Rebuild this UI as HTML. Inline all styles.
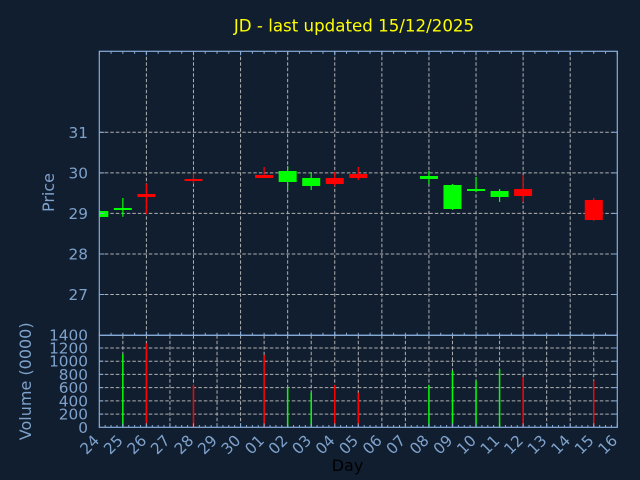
<!DOCTYPE html>
<html>
<head>
<meta charset="utf-8">
<style>
  html, body { margin:0; padding:0; background:#111e2f; }
  svg { display:block; }
  text { font-family: "DejaVu Sans", "Liberation Sans", sans-serif; }
</style>
</head>
<body>
<svg width="640" height="480" viewBox="0 0 640 480" xmlns="http://www.w3.org/2000/svg">
  <defs>
    <pattern id="pMinP" patternUnits="userSpaceOnUse" x="98.8" y="0" width="11.7727" height="10">
      <rect x="0" y="0" width="1" height="10" fill="#86acd9"/>
    </pattern>
    <pattern id="pMajP" patternUnits="userSpaceOnUse" x="98.8" y="0" width="47.0909" height="10">
      <rect x="0" y="0" width="1" height="10" fill="#86acd9"/>
    </pattern>
    <pattern id="pMinV" patternUnits="userSpaceOnUse" x="98.8" y="0" width="5.88636" height="10">
      <rect x="0" y="0" width="1" height="10" fill="#86acd9"/>
    </pattern>
    <pattern id="pMajV" patternUnits="userSpaceOnUse" x="98.8" y="0" width="23.5455" height="10">
      <rect x="0" y="0" width="1" height="10" fill="#86acd9"/>
    </pattern>
    <clipPath id="cp"><rect x="99.3" y="51.3" width="518" height="284"/></clipPath>
  </defs>

  <rect x="0" y="0" width="640" height="480" fill="#111e2f"/>

  <!-- Title -->
  <text x="354" y="31.5" font-size="16.67" fill="#ffff00" text-anchor="middle">JD - last updated 15/12/2025</text>

  <!-- ===== Price panel grid ===== -->
  <g stroke="#b0b0b0" stroke-width="1" stroke-dasharray="3.5,2" fill="none">
    <line x1="99.3" y1="132.3" x2="617.3" y2="132.3"/>
    <line x1="99.3" y1="172.9" x2="617.3" y2="172.9"/>
    <line x1="99.3" y1="213.4" x2="617.3" y2="213.4"/>
    <line x1="99.3" y1="254.0" x2="617.3" y2="254.0"/>
    <line x1="99.3" y1="294.5" x2="617.3" y2="294.5"/>
    <line x1="146.39" y1="51.3" x2="146.39" y2="335.3"/>
    <line x1="193.48" y1="51.3" x2="193.48" y2="335.3"/>
    <line x1="240.57" y1="51.3" x2="240.57" y2="335.3"/>
    <line x1="287.66" y1="51.3" x2="287.66" y2="335.3"/>
    <line x1="334.75" y1="51.3" x2="334.75" y2="335.3"/>
    <line x1="381.85" y1="51.3" x2="381.85" y2="335.3"/>
    <line x1="428.94" y1="51.3" x2="428.94" y2="335.3"/>
    <line x1="476.03" y1="51.3" x2="476.03" y2="335.3"/>
    <line x1="523.12" y1="51.3" x2="523.12" y2="335.3"/>
    <line x1="570.21" y1="51.3" x2="570.21" y2="335.3"/>
  </g>

  <!-- ===== Candles ===== -->
  <g clip-path="url(#cp)">
    <!-- 24 green -->
    <rect x="90.3" y="211" width="18" height="6" fill="#00ff00"/>
    <!-- 25 green -->
    <line x1="122.85" y1="198" x2="122.85" y2="216.7" stroke="#00ff00" stroke-width="1.2"/>
    <rect x="113.85" y="208" width="18" height="2" fill="#00ff00"/>
    <!-- 26 red -->
    <line x1="146.39" y1="183.7" x2="146.39" y2="214" stroke="#ff0000" stroke-width="1.2"/>
    <rect x="137.39" y="194" width="18" height="3" fill="#ff0000"/>
    <!-- 28 red -->
    <line x1="193.48" y1="173.3" x2="193.48" y2="183.7" stroke="#ff0000" stroke-width="1.2"/>
    <rect x="184.48" y="179" width="18" height="2" fill="#ff0000"/>
    <!-- 01 red -->
    <line x1="264.12" y1="167" x2="264.12" y2="177" stroke="#ff0000" stroke-width="1.2"/>
    <rect x="255.12" y="175" width="18" height="3" fill="#ff0000"/>
    <!-- 02 green -->
    <line x1="287.66" y1="166" x2="287.66" y2="190" stroke="#00ff00" stroke-width="1.2"/>
    <rect x="278.66" y="171" width="18" height="11" fill="#00ff00"/>
    <!-- 03 green -->
    <line x1="311.21" y1="172" x2="311.21" y2="190" stroke="#00ff00" stroke-width="1.2"/>
    <rect x="302.21" y="178" width="18" height="8" fill="#00ff00"/>
    <!-- 04 red -->
    <line x1="334.75" y1="172" x2="334.75" y2="186" stroke="#ff0000" stroke-width="1.2"/>
    <rect x="325.75" y="178" width="18" height="6" fill="#ff0000"/>
    <!-- 05 red -->
    <line x1="358.3" y1="167" x2="358.3" y2="180" stroke="#ff0000" stroke-width="1.2"/>
    <rect x="349.3" y="174" width="18" height="4" fill="#ff0000"/>
    <!-- 08 green -->
    <line x1="428.94" y1="171" x2="428.94" y2="184" stroke="#00ff00" stroke-width="1.2"/>
    <rect x="419.94" y="176" width="18" height="3" fill="#00ff00"/>
    <!-- 09 green -->
    <line x1="452.48" y1="184" x2="452.48" y2="210" stroke="#00ff00" stroke-width="1.2"/>
    <rect x="443.48" y="185" width="18" height="24" fill="#00ff00"/>
    <!-- 10 green -->
    <line x1="476.03" y1="177" x2="476.03" y2="192" stroke="#00ff00" stroke-width="1.2"/>
    <rect x="467.03" y="189" width="18" height="2" fill="#00ff00"/>
    <!-- 11 green -->
    <line x1="499.57" y1="189" x2="499.57" y2="202" stroke="#00ff00" stroke-width="1.2"/>
    <rect x="490.57" y="191" width="18" height="6" fill="#00ff00"/>
    <!-- 12 red -->
    <line x1="523.12" y1="175" x2="523.12" y2="202" stroke="#ff0000" stroke-width="1.2"/>
    <rect x="514.12" y="189" width="18" height="7" fill="#ff0000"/>
    <!-- 15 red -->
    <line x1="593.76" y1="198" x2="593.76" y2="221" stroke="#ff0000" stroke-width="1.2"/>
    <rect x="584.76" y="200" width="18" height="20" fill="#ff0000"/>
  </g>

  <!-- Price panel ticks -->
  <rect x="99" y="51.3" width="519" height="2.5" fill="url(#pMinP)"/>
  <rect x="99" y="51.3" width="519" height="4" fill="url(#pMajP)"/>
  <rect x="99" y="332.8" width="519" height="2.5" fill="url(#pMinP)"/>
  <rect x="99" y="331.3" width="519" height="4" fill="url(#pMajP)"/>
  <g stroke="#86acd9" stroke-width="1">
    <line x1="99.3" y1="132.3" x2="104.3" y2="132.3"/>
    <line x1="99.3" y1="172.9" x2="104.3" y2="172.9"/>
    <line x1="99.3" y1="213.4" x2="104.3" y2="213.4"/>
    <line x1="99.3" y1="254.0" x2="104.3" y2="254.0"/>
    <line x1="99.3" y1="294.5" x2="104.3" y2="294.5"/>
    <line x1="612.3" y1="132.3" x2="617.3" y2="132.3"/>
    <line x1="612.3" y1="172.9" x2="617.3" y2="172.9"/>
    <line x1="612.3" y1="213.4" x2="617.3" y2="213.4"/>
    <line x1="612.3" y1="254.0" x2="617.3" y2="254.0"/>
    <line x1="612.3" y1="294.5" x2="617.3" y2="294.5"/>
  </g>

  <!-- Price labels -->
  <g font-size="15.3" fill="#7ea2cc" text-anchor="end">
    <text x="88" y="137.8">31</text>
    <text x="88" y="178.4">30</text>
    <text x="88" y="218.9">29</text>
    <text x="88" y="259.5">28</text>
    <text x="88" y="300.0">27</text>
  </g>
  <text transform="translate(54,192.5) rotate(-90)" font-size="16" fill="#7ea2cc" text-anchor="middle">Price</text>

  <!-- ===== Volume panel grid ===== -->
  <g stroke="#b0b0b0" stroke-width="1" stroke-dasharray="3.5,2" fill="none">
    <line x1="99.3" y1="414.1" x2="617.3" y2="414.1"/>
    <line x1="99.3" y1="400.9" x2="617.3" y2="400.9"/>
    <line x1="99.3" y1="387.6" x2="617.3" y2="387.6"/>
    <line x1="99.3" y1="374.4" x2="617.3" y2="374.4"/>
    <line x1="99.3" y1="361.2" x2="617.3" y2="361.2"/>
    <line x1="99.3" y1="348.0" x2="617.3" y2="348.0"/>
    <line x1="122.85" y1="335.3" x2="122.85" y2="427.3"/>
    <line x1="146.39" y1="335.3" x2="146.39" y2="427.3"/>
    <line x1="169.94" y1="335.3" x2="169.94" y2="427.3"/>
    <line x1="193.48" y1="335.3" x2="193.48" y2="427.3"/>
    <line x1="217.03" y1="335.3" x2="217.03" y2="427.3"/>
    <line x1="240.57" y1="335.3" x2="240.57" y2="427.3"/>
    <line x1="264.12" y1="335.3" x2="264.12" y2="427.3"/>
    <line x1="287.66" y1="335.3" x2="287.66" y2="427.3"/>
    <line x1="311.21" y1="335.3" x2="311.21" y2="427.3"/>
    <line x1="334.75" y1="335.3" x2="334.75" y2="427.3"/>
    <line x1="358.3" y1="335.3" x2="358.3" y2="427.3"/>
    <line x1="381.85" y1="335.3" x2="381.85" y2="427.3"/>
    <line x1="405.39" y1="335.3" x2="405.39" y2="427.3"/>
    <line x1="428.94" y1="335.3" x2="428.94" y2="427.3"/>
    <line x1="452.48" y1="335.3" x2="452.48" y2="427.3"/>
    <line x1="476.03" y1="335.3" x2="476.03" y2="427.3"/>
    <line x1="499.57" y1="335.3" x2="499.57" y2="427.3"/>
    <line x1="523.12" y1="335.3" x2="523.12" y2="427.3"/>
    <line x1="546.66" y1="335.3" x2="546.66" y2="427.3"/>
    <line x1="570.21" y1="335.3" x2="570.21" y2="427.3"/>
    <line x1="593.76" y1="335.3" x2="593.76" y2="427.3"/>
  </g>

  <!-- Volume bars -->
  <g stroke-width="1.5">
    <line x1="122.85" y1="354" x2="122.85" y2="427.3" stroke="#00ff00"/>
    <line x1="146.39" y1="343.3" x2="146.39" y2="427.3" stroke="#ff0000"/>
    <line x1="193.48" y1="385" x2="193.48" y2="427.3" stroke="#ff0000"/>
    <line x1="264.12" y1="355" x2="264.12" y2="427.3" stroke="#ff0000"/>
    <line x1="287.66" y1="387.7" x2="287.66" y2="427.3" stroke="#00ff00"/>
    <line x1="311.21" y1="392.7" x2="311.21" y2="427.3" stroke="#00ff00"/>
    <line x1="334.75" y1="385" x2="334.75" y2="427.3" stroke="#ff0000"/>
    <line x1="358.3" y1="392.7" x2="358.3" y2="427.3" stroke="#ff0000"/>
    <line x1="428.94" y1="385" x2="428.94" y2="427.3" stroke="#00ff00"/>
    <line x1="452.48" y1="370.7" x2="452.48" y2="427.3" stroke="#00ff00"/>
    <line x1="476.03" y1="380.7" x2="476.03" y2="427.3" stroke="#00ff00"/>
    <line x1="499.57" y1="369.3" x2="499.57" y2="427.3" stroke="#00ff00"/>
    <line x1="523.12" y1="377" x2="523.12" y2="427.3" stroke="#ff0000"/>
    <line x1="593.76" y1="380.7" x2="593.76" y2="427.3" stroke="#ff0000"/>
  </g>

  <!-- Volume ticks -->
  <rect x="99" y="425" width="519" height="2.3" fill="url(#pMinV)"/>
  <rect x="99" y="423.3" width="519" height="4" fill="url(#pMajV)"/>
  <g stroke="#86acd9" stroke-width="1">
    <line x1="99.3" y1="414.1" x2="103.3" y2="414.1"/>
    <line x1="99.3" y1="400.9" x2="103.3" y2="400.9"/>
    <line x1="99.3" y1="387.6" x2="103.3" y2="387.6"/>
    <line x1="99.3" y1="374.4" x2="103.3" y2="374.4"/>
    <line x1="99.3" y1="361.2" x2="103.3" y2="361.2"/>
    <line x1="99.3" y1="348.0" x2="103.3" y2="348.0"/>
    <line x1="612.3" y1="414.1" x2="617.3" y2="414.1"/>
    <line x1="612.3" y1="400.9" x2="617.3" y2="400.9"/>
    <line x1="612.3" y1="387.6" x2="617.3" y2="387.6"/>
    <line x1="612.3" y1="374.4" x2="617.3" y2="374.4"/>
    <line x1="612.3" y1="361.2" x2="617.3" y2="361.2"/>
    <line x1="612.3" y1="348.0" x2="617.3" y2="348.0"/>
  </g>

  <!-- Spines -->
  <g stroke="#86acd9" stroke-width="1.2" fill="none">
    <rect x="99.3" y="51.3" width="518" height="284"/>
    <rect x="99.3" y="335.3" width="518" height="92"/>
  </g>

  <!-- Volume labels -->
  <g font-size="15.3" fill="#7ea2cc" text-anchor="end">
    <text x="88" y="432.8">0</text>
    <text x="88" y="419.6">200</text>
    <text x="88" y="406.4">400</text>
    <text x="88" y="393.1">600</text>
    <text x="88" y="379.9">800</text>
    <text x="88" y="366.7">1000</text>
    <text x="88" y="353.5">1200</text>
    <text x="88" y="340.3">1400</text>
  </g>
  <text transform="translate(31,381.3) rotate(-90)" font-size="16" fill="#7ea2cc" text-anchor="middle">Volume (0000)</text>

  <!-- X tick labels -->
  <g font-size="15.3" fill="#7ea2cc" text-anchor="end">
    <text transform="translate(100.3,441.5) rotate(-45)">24</text>
    <text transform="translate(123.85,441.5) rotate(-45)">25</text>
    <text transform="translate(147.39,441.5) rotate(-45)">26</text>
    <text transform="translate(170.94,441.5) rotate(-45)">27</text>
    <text transform="translate(194.48,441.5) rotate(-45)">28</text>
    <text transform="translate(218.03,441.5) rotate(-45)">29</text>
    <text transform="translate(241.57,441.5) rotate(-45)">30</text>
    <text transform="translate(265.12,441.5) rotate(-45)">01</text>
    <text transform="translate(288.66,441.5) rotate(-45)">02</text>
    <text transform="translate(312.21,441.5) rotate(-45)">03</text>
    <text transform="translate(335.75,441.5) rotate(-45)">04</text>
    <text transform="translate(359.3,441.5) rotate(-45)">05</text>
    <text transform="translate(382.85,441.5) rotate(-45)">06</text>
    <text transform="translate(406.39,441.5) rotate(-45)">07</text>
    <text transform="translate(429.94,441.5) rotate(-45)">08</text>
    <text transform="translate(453.48,441.5) rotate(-45)">09</text>
    <text transform="translate(477.03,441.5) rotate(-45)">10</text>
    <text transform="translate(500.57,441.5) rotate(-45)">11</text>
    <text transform="translate(524.12,441.5) rotate(-45)">12</text>
    <text transform="translate(547.66,441.5) rotate(-45)">13</text>
    <text transform="translate(571.21,441.5) rotate(-45)">14</text>
    <text transform="translate(594.76,441.5) rotate(-45)">15</text>
    <text transform="translate(618.3,441.5) rotate(-45)">16</text>
  </g>

  <!-- X axis label -->
  <text x="347.5" y="471" font-size="16" fill="#000000" text-anchor="middle">Day</text>
</svg>
</body>
</html>
